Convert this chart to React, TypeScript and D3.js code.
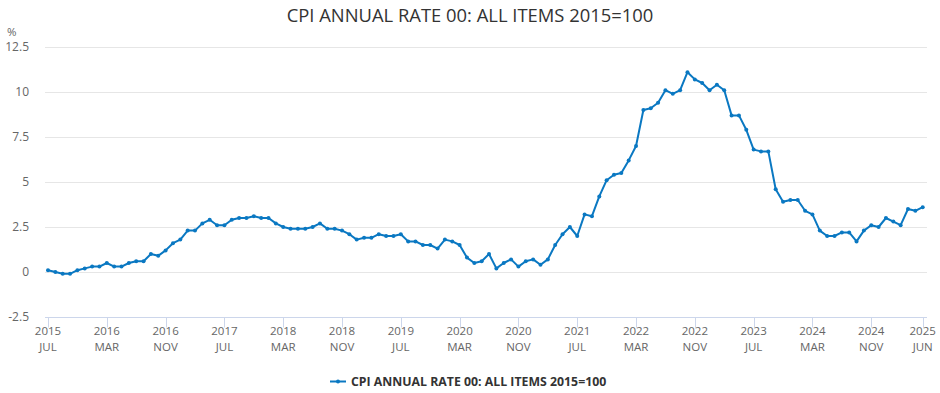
import React, { useEffect, useRef } from "react";
import * as d3 from "d3";

// monthly, Jul 2015 .. Jun 2025
const startYear = 2015;
const startMonth = 6; // July (0-based)
const cpiValues = [
  0.1, 0.0, -0.1, -0.1, 0.1, 0.2,
  0.3, 0.3, 0.5, 0.3, 0.3, 0.5, 0.6, 0.6, 1.0, 0.9, 1.2, 1.6,
  1.8, 2.3, 2.3, 2.7, 2.9, 2.6, 2.6, 2.9, 3.0, 3.0, 3.1, 3.0,
  3.0, 2.7, 2.5, 2.4, 2.4, 2.4, 2.5, 2.7, 2.4, 2.4, 2.3, 2.1,
  1.8, 1.9, 1.9, 2.1, 2.0, 2.0, 2.1, 1.7, 1.7, 1.5, 1.5, 1.3,
  1.8, 1.7, 1.5, 0.8, 0.5, 0.6, 1.0, 0.2, 0.5, 0.7, 0.3, 0.6,
  0.7, 0.4, 0.7, 1.5, 2.1, 2.5, 2.0, 3.2, 3.1, 4.2, 5.1, 5.4,
  5.5, 6.2, 7.0, 9.0, 9.1, 9.4, 10.1, 9.9, 10.1, 11.1, 10.7, 10.5,
  10.1, 10.4, 10.1, 8.7, 8.7, 7.9, 6.8, 6.7, 6.7, 4.6, 3.9, 4.0,
  4.0, 3.4, 3.2, 2.3, 2.0, 2.0, 2.2, 2.2, 1.7, 2.3, 2.6, 2.5,
  3.0, 2.8, 2.6, 3.5, 3.4, 3.6,
];
const yTicks = [-2.5, 0, 2.5, 5, 7.5, 10, 12.5];
const tickIndices = [0, 8, 16, 24, 32, 40, 48, 56, 64, 72, 80, 88, 96, 104, 112, 119];
const monthNames = ["JAN", "FEB", "MAR", "APR", "MAY", "JUN", "JUL", "AUG", "SEP", "OCT", "NOV", "DEC"];
const seriesName = "CPI ANNUAL RATE 00: ALL ITEMS 2015=100";
const chartTitle = "CPI ANNUAL RATE 00: ALL ITEMS 2015=100";

const W = 940;
const H = 393;
const FONT = "'Open Sans', 'Noto Sans', sans-serif";
const BLUE = "#0a78c2";

export default function App() {
  const ref = useRef<SVGSVGElement>(null);

  useEffect(() => {
    const svg = d3.select(ref.current);
    svg.selectAll("*").remove();

    const x = d3.scaleLinear().domain([0, cpiValues.length - 1]).range([48, 922.7]);
    const y = d3.scaleLinear().domain([-2.5, 12.5]).range([317, 47]);

    svg.append("rect").attr("width", W).attr("height", H).attr("fill", "#fff");

    svg
      .append("text")
      .attr("x", 470)
      .attr("y", 22)
      .attr("text-anchor", "middle")
      .attr("font-family", FONT)
      .attr("font-size", 18.4)
      .attr("fill", "#333")
      .text(chartTitle);

    // grid
    svg
      .append("g")
      .selectAll("line")
      .data(yTicks.filter((t) => t !== -2.5))
      .enter()
      .append("line")
      .attr("x1", 45)
      .attr("x2", 927)
      .attr("y1", (d) => Math.round(y(d)) + 0.5)
      .attr("y2", (d) => Math.round(y(d)) + 0.5)
      .attr("stroke", "#e6e6e6")
      .attr("stroke-width", 1);

    svg
      .append("g")
      .selectAll("text")
      .data(yTicks)
      .enter()
      .append("text")
      .attr("x", 29)
      .attr("y", (d) => y(d) + 4)
      .attr("text-anchor", "end")
      .attr("font-family", FONT)
      .attr("font-size", 12)
      .attr("fill", "#666")
      .text((d) => String(d));

    svg
      .append("text")
      .attr("x", 7)
      .attr("y", 36)
      .attr("font-family", FONT)
      .attr("font-size", 11.5)
      .attr("fill", "#666")
      .text("%");

    // x axis
    const axisY = Math.round(y(-2.5)) + 0.5;
    svg
      .append("line")
      .attr("x1", 45)
      .attr("x2", 927)
      .attr("y1", axisY)
      .attr("y2", axisY)
      .attr("stroke", "#ccd6eb");

    const xt = svg.append("g").selectAll("g").data(tickIndices).enter().append("g");
    xt.append("line")
      .attr("x1", (d) => Math.round(x(d)) + 0.5)
      .attr("x2", (d) => Math.round(x(d)) + 0.5)
      .attr("y1", axisY)
      .attr("y2", axisY + 10)
      .attr("stroke", "#ccd6eb");
    xt.append("text")
      .attr("x", (d) => x(d))
      .attr("y", axisY + 17.5)
      .attr("text-anchor", "middle")
      .attr("font-family", FONT)
      .attr("font-size", 11.5)
      .attr("fill", "#666")
      .text((d) => String(startYear + Math.floor((startMonth + d) / 12)));
    xt.append("text")
      .attr("x", (d) => x(d))
      .attr("y", axisY + 33.5)
      .attr("text-anchor", "middle")
      .attr("font-family", FONT)
      .attr("font-size", 11.5)
      .attr("fill", "#666")
      .text((d) => monthNames[(startMonth + d) % 12]);

    // line
    const line = d3
      .line<number>()
      .x((_, i) => x(i))
      .y((d) => y(d));
    svg
      .append("path")
      .datum(cpiValues)
      .attr("d", line)
      .attr("fill", "none")
      .attr("stroke", BLUE)
      .attr("stroke-width", 2)
      .attr("stroke-linejoin", "round");

    svg
      .append("g")
      .selectAll("circle")
      .data(cpiValues)
      .enter()
      .append("circle")
      .attr("cx", (_, i) => x(i))
      .attr("cy", (d) => y(d))
      .attr("r", 2)
      .attr("fill", BLUE);

    // legend
    const lg = svg.append("g");
    lg.append("line")
      .attr("x1", 330)
      .attr("x2", 346)
      .attr("y1", 381.5)
      .attr("y2", 381.5)
      .attr("stroke", BLUE)
      .attr("stroke-width", 2);
    lg.append("circle").attr("cx", 338).attr("cy", 381.5).attr("r", 2).attr("fill", BLUE);
    lg.append("text")
      .attr("x", 351)
      .attr("y", 386)
      .attr("font-family", FONT)
      .attr("font-size", 12.3)
      .attr("font-weight", "bold")
      .attr("fill", "#333")
      .text(seriesName);
  }, []);

  return (
    <svg ref={ref} width={W} height={H} style={{ display: "block", position: "absolute", left: 0, top: 0 }} />
  );
}
